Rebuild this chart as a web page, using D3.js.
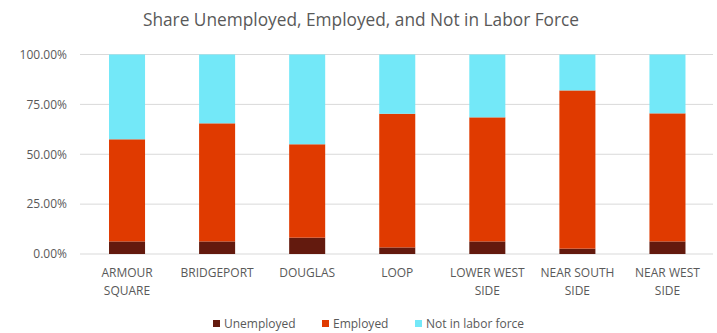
<!DOCTYPE html>
<html>
<head>
<meta charset="utf-8" />
<script src="https://cdn.jsdelivr.net/npm/d3@7/dist/d3.min.js"></script>
<style>
  body { margin: 0; background: #fff; }
  text { font-family: "Open Sans", sans-serif; fill: #595959; }
</style>
</head>
<body>
<script>
var categories = [["ARMOUR", "SQUARE"], ["BRIDGEPORT"], ["DOUGLAS"], ["LOOP"],
  ["LOWER WEST", "SIDE"], ["NEAR SOUTH", "SIDE"], ["NEAR WEST", "SIDE"]];
var unemployed = [6.3, 6.3, 8.2, 3.3, 6.3, 2.7, 6.3];
var employed = [51.2, 59.2, 46.8, 67.0, 62.2, 79.3, 64.2];
var notInLabor = [42.5, 34.5, 45.0, 29.7, 31.5, 18.0, 29.5];
var seriesNames = ["Unemployed", "Employed", "Not in labor force"];
var yTicks = [0, 25, 50, 75, 100];
var colors = ["#631a0e", "#e03a00", "#73e8f8"];

var width = 717, height = 333;
var margin = { top: 54.5, right: 4, bottom: 79, left: 80 };

var svg = d3.select('body').append('svg').attr('width', width).attr('height', height);

svg.append('text').attr('x', 361).attr('y', 26)
  .attr('text-anchor', 'middle').style('font-size', '17.3px')
  .text('Share Unemployed, Employed, and Not in Labor Force');

var names = categories.map(function (d) { return d.join(' '); });
var x = d3.scaleBand().domain(names).range([82, 712.5]).paddingInner(0.6).paddingOuter(0.3);
var y = d3.scaleLinear().domain([0, 100]).range([height - margin.bottom, margin.top]);

// grid
svg.append('g').selectAll('line').data(yTicks).enter().append('line')
  .attr('x1', margin.left).attr('x2', width - margin.right)
  .attr('y1', function (d) { return y(d); }).attr('y2', function (d) { return y(d); })
  .attr('stroke', '#d9d9d9').attr('stroke-width', 1);

var yAxis = d3.axisLeft(y).tickValues(yTicks).tickSize(0).tickPadding(13)
  .tickFormat(function (d) { return d.toFixed(2) + '%'; });
var gy = svg.append('g').attr('transform', 'translate(' + margin.left + ',0)').call(yAxis);
gy.select('.domain').remove();
gy.selectAll('text').style('font-size', '12px').style('font-family', '"Open Sans", sans-serif').attr('fill', '#595959');

var rows = names.map(function (n, i) {
  return { name: n, Unemployed: unemployed[i], Employed: employed[i], "Not in labor force": notInLabor[i] };
});
var stacked = d3.stack().keys(seriesNames)(rows);

svg.append('g').selectAll('g').data(stacked).enter().append('g')
  .attr('fill', function (d, i) { return colors[i]; })
  .selectAll('rect').data(function (d) { return d; }).enter().append('rect')
  .attr('x', function (d) { return x(d.data.name); })
  .attr('width', x.bandwidth())
  .attr('y', function (d) { return y(d[1]); })
  .attr('height', function (d) { return y(d[0]) - y(d[1]); });

// category labels
var cat = svg.append('g').selectAll('text').data(categories).enter().append('text')
  .attr('text-anchor', 'middle').style('font-size', '12px')
  .attr('x', function (d, i) { return x(names[i]) + x.bandwidth() / 2; })
  .attr('y', 277);
cat.selectAll('tspan').data(function (d) { return d; }).enter().append('tspan')
  .attr('x', function () { return d3.select(this.parentNode).attr('x'); })
  .attr('dy', function (d, i) { return i === 0 ? 0 : 18; })
  .text(function (d) { return d; });

// legend
var legendX = [213, 322, 415];
var lg = svg.append('g').selectAll('g').data(seriesNames).enter().append('g')
  .attr('transform', function (d, i) { return 'translate(' + legendX[i] + ',324)'; });
lg.append('rect').attr('x', 0).attr('y', -4).attr('width', 7).attr('height', 7)
  .attr('fill', function (d, i) { return colors[i]; });
lg.append('text').attr('x', 11).attr('y', 4).style('font-size', '12px').text(function (d) { return d; });
</script>
</body>
</html>
